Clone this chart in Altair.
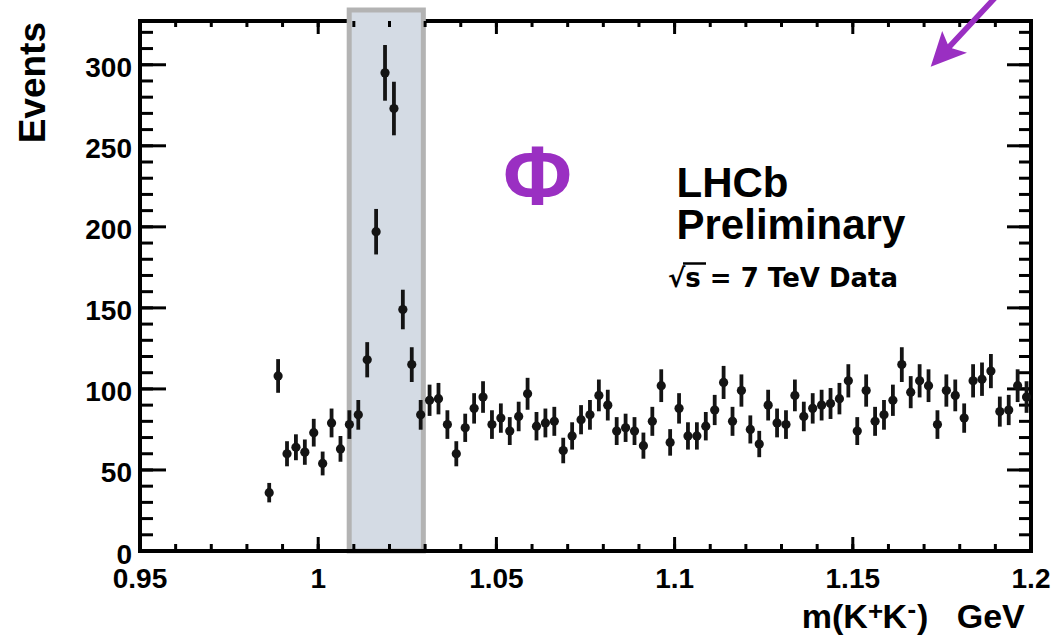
import altair as alt
import numpy as np
import pandas as pd

# ---- histogram of m(K+K-), 2.5 MeV bins (bin centres in GeV) ----
mass = [
    0.98625, 0.98875, 0.99125, 0.99375, 0.99625, 0.99875,
    1.00125, 1.00375, 1.00625, 1.00875, 1.01125, 1.01375, 1.01625, 1.01875,
    1.02125, 1.02375, 1.02625, 1.02875, 1.03125, 1.03375, 1.03625, 1.03875,
    1.04125, 1.04375, 1.04625, 1.04875, 1.05125, 1.05375, 1.05625, 1.05875,
    1.06125, 1.06375, 1.06625, 1.06875, 1.07125, 1.07375, 1.07625, 1.07875,
    1.08125, 1.08375, 1.08625, 1.08875, 1.09125, 1.09375, 1.09625, 1.09875,
    1.10125, 1.10375, 1.10625, 1.10875, 1.11125, 1.11375, 1.11625, 1.11875,
    1.12125, 1.12375, 1.12625, 1.12875, 1.13125, 1.13375, 1.13625, 1.13875,
    1.14125, 1.14375, 1.14625, 1.14875, 1.15125, 1.15375, 1.15625, 1.15875,
    1.16125, 1.16375, 1.16625, 1.16875, 1.17125, 1.17375, 1.17625, 1.17875,
    1.18125, 1.18375, 1.18625, 1.18875, 1.19125, 1.19375, 1.19625, 1.19875,
]
events = [
    36, 108, 60, 64, 61, 73,
    54, 79, 63, 78, 84, 118, 197, 295,
    273, 149, 115, 84, 93, 94, 78, 60,
    76, 88, 95, 78, 82, 74, 83, 97,
    77, 79, 80, 62, 71, 81, 84, 96,
    90, 74, 76, 74, 65, 80, 102, 67,
    88, 71, 71, 77, 87, 104, 80, 99,
    75, 66, 90, 79, 78, 96, 83, 88,
    90, 91, 94, 105, 74, 99, 80, 84,
    93, 115, 98, 105, 102, 78, 99, 96,
    82, 105, 106, 111, 86, 87, 102, 95,
]

# phi signal window (GeV)
phi_window = [1.0087, 1.0295]

# axis ticks and their labels
x_major = [0.95, 1.0, 1.05, 1.1, 1.15, 1.2]
x_labels = ["0.95", "1", "1.05", "1.1", "1.15", "1.2"]
x_minor = [0.95, 0.96, 0.97, 0.98, 0.99, 1.0, 1.01, 1.02, 1.03, 1.04, 1.05,
           1.06, 1.07, 1.08, 1.09, 1.1, 1.11, 1.12, 1.13, 1.14, 1.15,
           1.16, 1.17, 1.18, 1.19, 1.2]
y_major = [0, 50, 100, 150, 200, 250, 300]
y_labels = ["0", "50", "100", "150", "200", "250", "300"]
y_minor = list(range(0, 330, 10))

W, H = 891, 530
FONT = "Liberation Sans"
WIDE = "DejaVu Sans"
INK = "#141414"
PURPLE = "#9a2fc2"

hist = pd.DataFrame({"mass": mass, "events": events})
# Poisson uncertainty on each bin count
hist["lo"] = hist["events"] - np.sqrt(hist["events"])
hist["hi"] = hist["events"] + np.sqrt(hist["events"])

xs = alt.Scale(domain=[0.95, 1.2], nice=False, zero=False)
ys = alt.Scale(domain=[0, 327], nice=False, zero=True)

one = pd.DataFrame({"k": [0]})


def frame_line(**enc):
    return alt.Chart(one).mark_rule(
        color="black", strokeWidth=4, strokeCap="square"
    ).encode(**enc)


top_frame = frame_line(x=alt.value(0), x2=alt.value(W), y=alt.value(0))
bottom_frame = frame_line(x=alt.value(0), x2=alt.value(W), y=alt.value(H))
left_frame = frame_line(x=alt.value(0), y=alt.value(0), y2=alt.value(H))
right_frame = frame_line(x=alt.value(W), y=alt.value(0), y2=alt.value(H))

band = alt.Chart(
    pd.DataFrame({"start": [phi_window[0]], "end": [phi_window[1]]})
).mark_rect(fill="#d4dbe4", stroke="#b3b3b3", strokeWidth=5).encode(
    x=alt.X("start:Q", scale=xs, axis=None),
    x2="end:Q",
    y=alt.value(H),
    y2=alt.value(-11),
)


def x_ticks(vals, length):
    d = pd.DataFrame({"v": vals})
    base = alt.Chart(d).mark_rule(color="black", strokeWidth=3)
    bottom = base.encode(x=alt.X("v:Q", scale=xs, axis=None),
                         y=alt.value(H), y2=alt.value(H - length))
    top = base.encode(x=alt.X("v:Q", scale=xs, axis=None),
                      y=alt.value(0), y2=alt.value(length - 1))
    return [bottom, top]


def y_ticks(vals, left_len, right_len):
    d = pd.DataFrame({"v": vals})
    base = alt.Chart(d).mark_rule(color="black", strokeWidth=3)
    left = base.encode(y=alt.Y("v:Q", scale=ys, axis=None),
                       x=alt.value(0), x2=alt.value(left_len))
    right = base.encode(y=alt.Y("v:Q", scale=ys, axis=None),
                        x=alt.value(W), x2=alt.value(W - right_len))
    return [left, right]


ticks = (x_ticks(x_minor, 7) + x_ticks(x_major, 14)
         + y_ticks(y_minor, 13, 12) + y_ticks(y_major, 26, 24))

# tick labels, placed through the same scales
x_tick_labels = alt.Chart(
    pd.DataFrame({"v": x_major, "t": x_labels})
).mark_text(
    font=FONT, fontWeight="bold", fontSize=28, color="black",
    align="center", baseline="alphabetic",
).encode(x=alt.X("v:Q", scale=xs, axis=None), y=alt.value(H + 37), text="t:N")

y_tick_labels = alt.Chart(
    pd.DataFrame({"v": y_major, "t": y_labels})
).mark_text(
    font=FONT, fontWeight="bold", fontSize=28, color="black",
    align="right", baseline="alphabetic", dy=12.5,
).encode(y=alt.Y("v:Q", scale=ys, axis=None), x=alt.value(-8), text="t:N")

err_bars = alt.Chart(hist).mark_rule(color=INK, strokeWidth=3.8).encode(
    x=alt.X("mass:Q", scale=xs, axis=None),
    y=alt.Y("lo:Q", scale=ys, axis=None),
    y2="hi:Q",
)
points = alt.Chart(hist).mark_point(
    filled=True, shape="circle", size=85, color=INK, opacity=1
).encode(
    x=alt.X("mass:Q", scale=xs, axis=None),
    y=alt.Y("events:Q", scale=ys, axis=None),
)


def label(text, x, y, size, color="black", align="left", angle=0, font=FONT):
    return alt.Chart(pd.DataFrame({"t": [text]})).mark_text(
        font=font, fontWeight="bold", fontSize=size, color=color,
        align=align, baseline="alphabetic", angle=angle,
    ).encode(x=alt.value(x), y=alt.value(y), text="t:N")


# x-axis title m(K+K-) GeV, with raised charge signs
XT = H + 77
x_title = [
    label("m(K", 661.7, XT, 34),
    label("+", 728, XT - 8, 26),
    label("K", 742.5, XT, 34),
    label("-", 767.5, XT - 10.5, 26),
    label(")", 777, XT, 34),
    label("GeV", 816.7, XT, 34),
]
y_title = label("Events", -95, 1, 37, align="right", angle=270)

phi = label("Φ", 397.5, 184, 84, PURPLE, "center")
lhcb = label("LHCb", 536.5, 175.7, 42)
prelim = label("Preliminary", 536.5, 218, 42)
energy = label("√s = 7 TeV Data", 528, 265.7, 26, font=WIDE)
root_bar = alt.Chart(one).mark_rule(color="black", strokeWidth=2.5).encode(
    x=alt.value(543), x2=alt.value(566), y=alt.value(242.5)
)

# arrow pointing into the upper-right corner of the frame (path in pixels)
arrow_path = ("M0,0L36.3,-14L21.15,-18.56L77.07,-78.5L72.97,-82.3"
              "L17.05,-22.38L11.49,-35.76Z")
arrow = alt.Chart(one).mark_point(
    shape=arrow_path, size=4, filled=True, color=PURPLE, opacity=1,
    strokeWidth=0,
).encode(x=alt.value(790.7), y=alt.value(45.7))

chart = alt.layer(
    top_frame, band, bottom_frame, left_frame, right_frame,
    *ticks, err_bars, points,
    x_tick_labels, y_tick_labels, *x_title, y_title,
    phi, lhcb, prelim, energy, root_bar, arrow,
).properties(
    width=W, height=H,
    autosize=alt.AutoSizeParams(type="none"),
    padding={"left": 140, "top": 21, "right": 22, "bottom": 84},
    background="white",
).configure_view(stroke=None)

chart.save("out.html", embed_options={"renderer": "svg", "actions": False})
